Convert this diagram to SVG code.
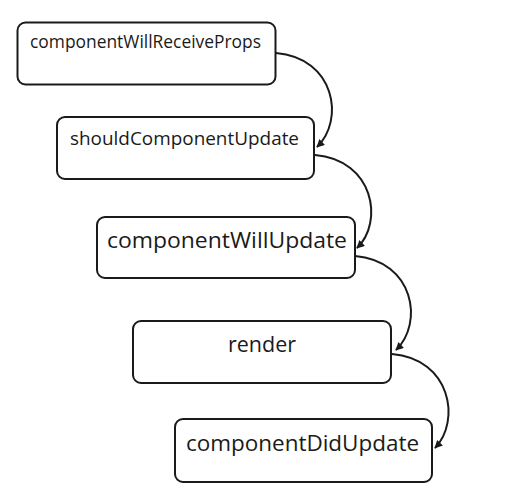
<svg xmlns="http://www.w3.org/2000/svg" width="511" height="500" viewBox="0 0 511 500">
<defs>
<style>
.box{fill:#fff;stroke:#1a1a1a;stroke-width:2}
.lbl{font-family:"Open Sans","Noto Sans","Liberation Sans",sans-serif;fill:#1a1a1a}
.edge{fill:none;stroke:#1a1a1a;stroke-width:2}
</style>
<marker id="ah" viewBox="0 0 10 10" refX="9" refY="5" markerWidth="4" markerHeight="4" orient="auto" markerUnits="strokeWidth">
<path d="M0,0 L10,5 L0,10 z" fill="#1a1a1a"/>
</marker>
</defs>
<rect width="511" height="500" fill="#fff"/>
<g id="n1">
<rect class="box" x="17.5" y="22.5" width="258" height="62" rx="8"/>
<text class="lbl" x="30" y="48" font-size="17.3" textLength="231" lengthAdjust="spacingAndGlyphs">componentWillReceiveProps</text>
</g>
<g id="n2">
<rect class="box" x="57" y="117" width="257" height="62" rx="8"/>
<text class="lbl" x="70" y="145" font-size="18.9" textLength="229" lengthAdjust="spacingAndGlyphs">shouldComponentUpdate</text>
</g>
<g id="n3">
<rect class="box" x="97" y="217" width="258" height="61" rx="8"/>
<text class="lbl" x="107" y="248" font-size="22.5" textLength="240" lengthAdjust="spacingAndGlyphs">componentWillUpdate</text>
</g>
<g id="n4">
<rect class="box" x="133" y="321" width="258" height="62" rx="8"/>
<text class="lbl" x="262" y="352" font-size="21.5" text-anchor="middle">render</text>
</g>
<g id="n5">
<rect class="box" x="175" y="419" width="257" height="63" rx="8"/>
<text class="lbl" x="186" y="451" font-size="22.5" textLength="233" lengthAdjust="spacingAndGlyphs">componentDidUpdate</text>
</g>
<g id="edges">
<path class="edge" marker-end="url(#ah)" d="M276,53 C335,58 345,120 317,147"/>
<path class="edge" marker-end="url(#ah)" d="M315,155 C374,160 384,222 357,248"/>
<path class="edge" marker-end="url(#ah)" d="M355,256 C414,261 424,323 396,350"/>
<path class="edge" marker-end="url(#ah)" d="M392,354 C451,359 461,421 435,448"/>
</g>
</svg>
